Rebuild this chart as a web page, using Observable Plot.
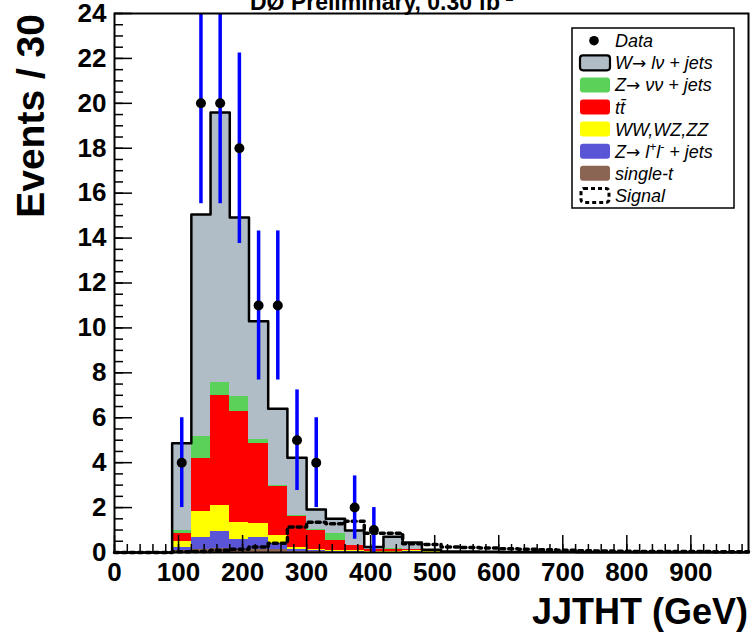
<!DOCTYPE html>
<html><head><meta charset="utf-8">
<script src="https://cdn.jsdelivr.net/npm/d3@7"></script>
<script src="https://cdn.jsdelivr.net/npm/@observablehq/plot@0.6"></script>
<style>body{margin:0;background:#fff}#chart{width:754px;height:642px}</style>
</head><body><div id="chart"></div>
<script>
// ---- data (JJTHT bins of 30 GeV from 0 to 990) ----
const binEdges = d3.range(0, 990, 30);
const singleT = [0,0,0,.10,.15,.18,.12,.15,.15,.05,.03,.02,.02,.01,.01,.01,.01,0,0,0,0,0,0,0,0,0,0,0,0,0,0,0,0];
const zll     = [0,0,0,.14,.50,.75,.46,.50,.25,.08,.04,.03,.02,.01,.01,.02,.01,0,0,0,0,0,0,0,0,0,0,0,0,0,0,0,0];
const diboson = [0,0,0,.26,1.19,1.16,.77,.63,.36,.10,.06,.05,.04,.02,.03,.06,.02,0,0,0,0,0,0,0,0,0,0,0,0,0,0,0,0];
const ttbar   = [0,0,0,.33,2.33,4.90,4.94,3.59,2.19,1.37,.85,.43,.23,.10,.10,.03,.02,.01,.01,0,0,0,0,0,0,0,0,0,0,0,0,0,0];
const zvv     = [0,0,0,.15,.99,.59,.66,.15,.03,.03,.03,.30,.02,.01,.01,.01,.01,0,0,0,0,0,0,0,0,0,0,0,0,0,0,0,0];
const wlv     = [0,0,0,3.89,9.89,12.01,7.97,5.28,3.42,2.59,.90,.67,.65,.09,.54,.32,.05,.04,.03,.03,.02,.02,.02,.02,.01,.01,.01,.01,.01,.01,.01,.01,.01];
const signal  = [0,0,0,.03,.05,.10,.15,.24,.41,1.13,1.35,1.28,1.39,.86,.86,.39,.36,.25,.22,.20,.17,.15,.12,.10,.08,.07,.06,.05,.05,.04,.04,.03,.03];
const dataX   = [105,135,165,195,225,255,285,315,375,405];
const dataN   = [4,20,20,18,11,11,5,4,2,1];
const dataErr = [2,4.47,4.47,4.24,3.32,3.32,2.24,2,1.41,1];
const compNames  = ["single-t","Z→ll","WW,WZ,ZZ","ttbar","Z→νν","W→lν"];
const compColors = ["#8b6553","#5a55d7","#ffff00","#ff0000","#5ad25a","#b0bcc6"];
const yMajor = [0,2,4,6,8,10,12,14,16,18,20,22,24];
const yMinor = d3.range(0, 24.01, 0.5);
const xMajor = [0,100,200,300,400,500,600,700,800,900];
const xMinor = d3.range(0, 990, 20);

// ---- build tables ----
const comps = [singleT, zll, diboson, ttbar, zvv, wlv];
const rows = [];
comps.forEach((vals, k) => vals.forEach((v, i) => rows.push({x1: binEdges[i], x2: binEdges[i] + 30, y: v, comp: compNames[k]})));
const total = binEdges.map((_, i) => comps.reduce((s, c) => s + c[i], 0));
const stepPts = (vals) => binEdges.map((e, i) => ({x: e, y: vals[i]})).concat([{x: 990, y: vals[vals.length - 1]}]);
const dataPts = dataX.map((x, i) => ({x, n: dataN[i], lo: dataN[i] - dataErr[i], hi: dataN[i] + dataErr[i]}));

const W = 754, H = 642, mL = 114, mR = 6, mT = 13, mB = 90;
const pw = W - mL - mR, ph = H - mT - mB;
const font = "Liberation Sans, Arial, Helvetica, sans-serif";

const chart = Plot.plot({
  width: W, height: H,
  marginLeft: mL, marginRight: mR, marginTop: mT, marginBottom: mB,
  style: {fontFamily: font, background: "white", color: "black", overflow: "visible"},
  x: {domain: [0, 990]},
  y: {domain: [0, 24]},
  color: {domain: compNames, range: compColors},
  marks: [
    Plot.rectY(rows, {x1: "x1", x2: "x2", y: "y", fill: "comp", order: compNames, shapeRendering: "crispEdges"}),
    Plot.line(stepPts(total), {x: "x", y: "y", curve: "step-after", stroke: "black", strokeWidth: 2.5}),
    Plot.line(stepPts(signal), {x: "x", y: "y", curve: "step-after", stroke: "black", strokeWidth: 3.5, strokeDasharray: "4,4"}),
    Plot.tickY(yMinor, {y: d => d, insetRight: pw - 9, stroke: "black", strokeWidth: 1.5}),
    Plot.tickY(yMajor, {y: d => d, insetRight: pw - 18, stroke: "black", strokeWidth: 1.5}),
    Plot.tickX(xMinor, {x: d => d, insetTop: ph - 8, stroke: "black", strokeWidth: 1.5}),
    Plot.tickX(xMajor, {x: d => d, insetTop: ph - 17, stroke: "black", strokeWidth: 1.5}),
    Plot.ruleX(dataPts, {x: "x", y1: "lo", y2: "hi", stroke: "#0000ff", strokeWidth: 3.5, clip: true}),
    Plot.dot(dataPts, {x: "x", y: "n", r: 5, fill: "black", stroke: "none"}),
    Plot.axisY({ticks: yMajor, tickSize: 0, tickPadding: 8, fontSize: 26, fontWeight: "bold", label: null}),
    Plot.axisX({ticks: xMajor, tickSize: 0, tickPadding: 10, fontSize: 26, fontWeight: "bold", label: null}),
    Plot.frame({stroke: "black", strokeWidth: 2})
  ]
});
document.getElementById("chart").appendChild(chart);

// ---- titles and legend ----
const svg = d3.select(chart);
const title = svg.insert("text", ":first-child").attr("x", 250).attr("y", 10).attr("text-anchor", "start")
  .attr("font-family", font).attr("font-size", 23).attr("font-weight", "bold").attr("fill", "black");
title.append("tspan").text("DØ Preliminary, 0.30 fb");
title.append("tspan").attr("dy", -9).attr("font-size", 15).text("-1");

svg.append("text").attr("transform", "translate(44,14) rotate(-90)").attr("text-anchor", "end")
  .attr("font-family", font).attr("font-size", 39).attr("font-weight", "bold").text("Events / 30");
svg.append("text").attr("x", 748).attr("y", 624).attr("text-anchor", "end")
  .attr("font-family", font).attr("font-size", 36).attr("font-weight", "bold").text("JJTHT (GeV)");

const lg = svg.append("g").attr("font-family", font).attr("font-size", 18).attr("font-style", "italic").attr("text-anchor", "start");
lg.append("rect").attr("x", 572).attr("y", 28).attr("width", 162).attr("height", 180)
  .attr("fill", "white").attr("stroke", "black").attr("stroke-width", 1.5);
const entries = [
  {type: "dot", parts: [["Data"]]},
  {type: "box", fill: compColors[5], stroke: "black", parts: [["W"], ["→", "arrow"], [" lν + jets"]]},
  {type: "box", fill: compColors[4], parts: [["Z"], ["→", "arrow"], [" νν + jets"]]},
  {type: "box", fill: compColors[3], parts: [["tt̄"]]},
  {type: "box", fill: compColors[2], parts: [["WW,WZ,ZZ"]]},
  {type: "box", fill: compColors[1], parts: [["Z"], ["→", "arrow"], [" l"], ["+", "sup"], ["l"], ["-", "sup"], [" + jets"]]},
  {type: "box", fill: compColors[0], parts: [["single-t"]]},
  {type: "dash", parts: [["Signal"]]}
];
entries.forEach((e, i) => {
  const cy = 40.7 + i * 22.1;
  if (e.type === "dot") lg.append("circle").attr("cx", 594).attr("cy", cy).attr("r", 4.8).attr("fill", "black");
  else if (e.type === "box") lg.append("rect").attr("x", 580).attr("y", cy - 7.5).attr("width", 30).attr("height", 15).attr("rx", 3)
    .attr("fill", e.fill).attr("stroke", e.stroke || "none").attr("stroke-width", 2.2);
  else lg.append("rect").attr("x", 581).attr("y", cy - 7).attr("width", 28).attr("height", 14).attr("rx", 3)
    .attr("fill", "white").attr("stroke", "black").attr("stroke-width", 3).attr("stroke-dasharray", "4,3");
  const t = lg.append("text").attr("x", 615).attr("y", cy + 6.5);
  e.parts.forEach(([s, k]) => {
    const sp = t.append("tspan").text(s);
    if (k === "sup") sp.attr("font-size", 12).attr("baseline-shift", "super");
    if (k === "arrow") sp.attr("font-family", "DejaVu Sans").attr("font-style", "normal").attr("font-size", 17);
  });
});
</script></body></html>
